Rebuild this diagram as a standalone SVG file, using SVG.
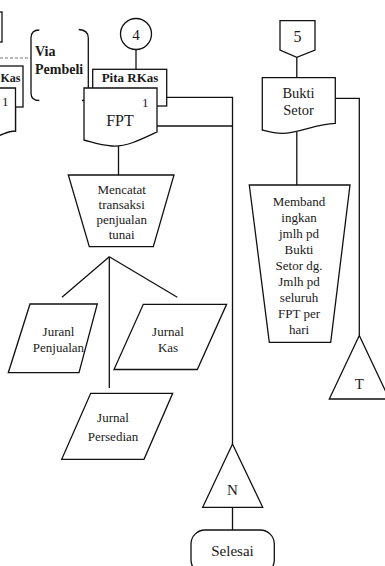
<svg xmlns="http://www.w3.org/2000/svg" width="385" height="566" viewBox="0 0 385 566" font-family="'Liberation Serif', 'Times New Roman', Times, serif">
  <style>
    .s { fill: #fff; stroke: #111; stroke-width: 1.3; }
    .ln { fill: none; stroke: #111; stroke-width: 1.3; }
    .dash { fill: none; stroke: #777; stroke-width: 1.2; stroke-dasharray: 3 2; }
    text { font-family: 'Liberation Serif', 'Times New Roman', Times, serif; fill: #1a1a1a; }
    .t13 { font-size: 13px; text-anchor: middle; }
    .b13 { font-size: 13px; font-weight: bold; text-anchor: middle; }
  </style>

  <rect width="385" height="566" fill="#fff"/>

  <!-- connectors -->
  <g id="connectors">
    <line class="dash" x1="0" y1="58" x2="31" y2="58"/>
    <line class="ln" x1="15.5" y1="107" x2="15.5" y2="132"/>
    <line class="ln" x1="136" y1="49" x2="136" y2="69.3"/>
    <polyline class="ln" points="166.7,97.3 232.5,97.3 232.5,444"/>
    <line class="ln" x1="157" y1="126" x2="232.5" y2="126"/>
    <line class="ln" x1="118.5" y1="146" x2="118.5" y2="175"/>
    <line class="ln" x1="109.3" y1="256.7" x2="62" y2="297.3"/>
    <line class="ln" x1="109.3" y1="256.7" x2="177.3" y2="297.3"/>
    <line class="ln" x1="109.3" y1="256.7" x2="109.3" y2="388"/>
    <line class="ln" x1="296.8" y1="57.3" x2="296.8" y2="77.7"/>
    <line class="ln" x1="296.8" y1="132" x2="296.8" y2="185"/>
    <polyline class="ln" points="335.3,98.3 359.3,98.3 359.3,335.5"/>
    <line class="ln" x1="232.5" y1="507.3" x2="232.5" y2="530"/>
  </g>

  <!-- cut-off nodes at the left margin -->
  <g id="left-box">
    <rect class="s" x="-20" y="12" width="22" height="30"/>
  </g>
  <g id="left-docs">
    <rect class="s" x="-30" y="66" width="53" height="41"/>
    <text x="0.5" y="82" style="font-size:12px;font-weight:bold">Kas</text>
    <path class="s" d="M-30,88 H15.5 V131 C8,131 4,134 -2,136 L-30,140 Z"/>
    <text x="2" y="106" style="font-size:13px">1</text>
  </g>

  <!-- annotation bracket -->
  <g id="via-pembeli">
    <path class="ln" d="M39.3,30 Q31,30 31,38 V93 Q31,100.5 39.3,100.5"/>
    <path class="ln" d="M78.7,29.5 Q88.3,30 88.3,38 V93 Q88.3,100.5 82,100.5 H84"/>
    <text x="35" y="56" style="font-size:14px;font-weight:bold">Via</text>
    <text x="35" y="74" style="font-size:14px;font-weight:bold">Pembeli</text>
  </g>

  <!-- connector 4 -->
  <g id="conn-4">
    <circle class="s" cx="136" cy="34" r="15.5"/>
    <text x="136" y="39.5" style="font-size:15px;text-anchor:middle">4</text>
  </g>

  <!-- Pita RKas + FPT document stack -->
  <g id="pita-rkas">
    <rect class="s" x="92.7" y="69.3" width="74" height="36.7"/>
    <text class="b13" x="130" y="81.5">Pita RKas</text>
  </g>
  <g id="fpt">
    <path class="s" d="M84,88 H157 V132 C140,140 126,147 112,146 C100,145 92,142 84,140 Z"/>
    <text x="142" y="107" style="font-size:13px">1</text>
    <text x="120" y="126" style="font-size:16px;text-anchor:middle">FPT</text>
  </g>

  <!-- manual process -->
  <g id="mencatat">
    <polygon class="s" points="68.3,175 174,175 153.3,246.7 89.3,246.7"/>
    <text class="t13" x="121.7" y="193.5">Mencatat</text>
    <text class="t13" x="121.7" y="208.5">transaksi</text>
    <text class="t13" x="121.7" y="223.5">penjualan</text>
    <text class="t13" x="121.7" y="239">tunai</text>
  </g>

  <!-- journals -->
  <g id="jurnal-penjualan">
    <polygon class="s" points="30,304 97.3,304 79,372.7 8.3,372.7"/>
    <text class="t13" x="58.5" y="336">Juranl</text>
    <text class="t13" x="58.5" y="352">Penjualan</text>
  </g>
  <g id="jurnal-kas">
    <polygon class="s" points="143.3,304.3 226.6,304.3 197.3,369.5 114,369.5"/>
    <text class="t13" x="168" y="336">Jurnal</text>
    <text class="t13" x="168" y="352">Kas</text>
  </g>
  <g id="jurnal-persedian">
    <polygon class="s" points="90.7,393.3 172.7,393.3 144,459.3 61.7,459.3"/>
    <text class="t13" x="113" y="422">Jurnal</text>
    <text class="t13" x="113" y="441">Persedian</text>
  </g>

  <!-- off-page connector 5 -->
  <g id="conn-5">
    <polygon class="s" points="280,20.7 315,20.7 315,50 296.8,57.3 280,50"/>
    <text x="297.5" y="41.7" style="font-size:16px;text-anchor:middle">5</text>
  </g>

  <!-- Bukti Setor document -->
  <g id="bukti-setor">
    <path class="s" d="M262.3,77.7 H335.3 V123.3 C315,124 300,133 282,133.3 C274,133.3 268,131.5 262.3,130 Z"/>
    <text x="298.5" y="97.7" style="font-size:14.5px;text-anchor:middle">Bukti</text>
    <text x="298.5" y="115" style="font-size:14.5px;text-anchor:middle">Setor</text>
  </g>

  <!-- comparison process -->
  <g id="membandingkan">
    <polygon class="s" points="249.3,185 350,185 330.7,342.3 269.3,342.3"/>
    <text class="t13" x="299" y="206">Memband</text>
    <text class="t13" x="299" y="222">ingkan</text>
    <text class="t13" x="299" y="238">jmlh pd</text>
    <text class="t13" x="299" y="254">Bukti</text>
    <text class="t13" x="299" y="270">Setor dg.</text>
    <text class="t13" x="299" y="286">Jmlh pd</text>
    <text class="t13" x="299" y="302">seluruh</text>
    <text class="t13" x="299" y="318">FPT per</text>
    <text class="t13" x="299" y="334">hari</text>
  </g>

  <!-- files -->
  <g id="file-t">
    <polygon class="s" points="359.3,335.5 389.3,399 329.3,399"/>
    <text x="359.3" y="389" style="font-size:15px;text-anchor:middle">T</text>
  </g>
  <g id="file-n">
    <polygon class="s" points="232.5,444 262.7,507.3 202.7,507.3"/>
    <text x="232.5" y="495" style="font-size:15px;text-anchor:middle">N</text>
  </g>

  <!-- terminator -->
  <g id="selesai">
    <rect class="s" x="191" y="530" width="83.3" height="44" rx="14"/>
    <text x="232.5" y="555.5" style="font-size:15px;text-anchor:middle">Selesai</text>
  </g>
</svg>
